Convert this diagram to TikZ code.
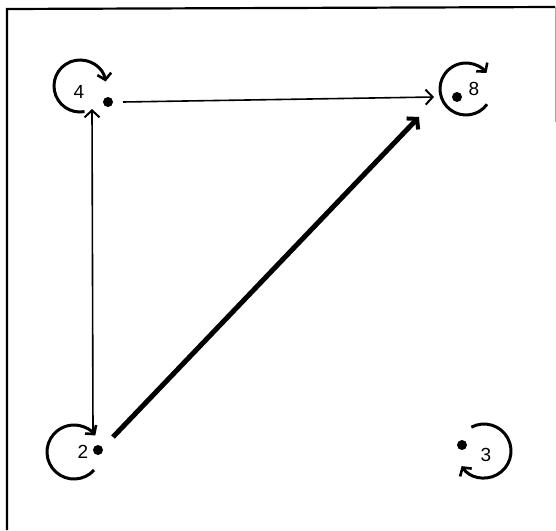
\documentclass[tikz,border=0pt]{standalone}
\usepackage{fontspec}
\setmainfont{Liberation Sans}
\usetikzlibrary{arrows.meta}
\begin{document}
\begin{tikzpicture}[x=1pt,y=1pt,
  dotnode/.style={circle,fill=black,inner sep=0pt,minimum size=10pt},
  lbl/.style={inner sep=0pt,font=\fontsize{19}{19}\selectfont},
  loopline/.style={line width=3pt,-{Straight Barb[length=6pt,width=14pt,line width=2.6pt]}},
  thinarrow/.style={line width=1.6pt,-{Straight Barb[length=7pt,width=15pt,line width=2pt]}},
  thickarrow/.style={line width=5pt,-{Straight Barb[length=7pt,width=16pt,line width=4pt]}},
  frameline/.style={line width=2.2pt}]
\useasboundingbox (0,0) rectangle (556,-530);
% frame
\draw[frameline] (7,-530) -- (7,-9) -- (555,-7);
\draw[line width=1pt,gray!70] (555,-7) -- (555,-122);
% dots
\node[dotnode] (d4) at (108,-102) {};
\node[dotnode] (d8) at (457,-97) {};
\node[dotnode] (d2) at (98,-450) {};
\node[dotnode] (d3) at (462,-445) {};
% labels
\node[lbl] (l4) at (79,-92) {4};
\node[lbl] (l8) at (474,-89) {8};
\node[lbl] (l2) at (83,-452) {2};
\node[lbl] (l3) at (486,-455) {3};
% self loops
\draw[loopline] (80,-86) ++(-80:26) arc[start angle=-80,end angle=-350,radius=26];
\draw[loopline] (466,-89) ++(-36:26) arc[start angle=-36,end angle=-322,radius=26];
\draw[loopline] (74,-452) ++(-42:27) arc[start angle=-42,end angle=-322,radius=27];
\draw[loopline] (484,-451) ++(118:27) arc[start angle=118,end angle=-146,radius=27];
% connectors
\draw[thinarrow] ([xshift=15pt]d4.center) -- ([xshift=-23pt]d8.center);
\draw[thinarrow] ([xshift=-5pt,yshift=18pt]d2.center) -- ([xshift=-16pt,yshift=-7pt]d4.center);
\draw[thickarrow] ([xshift=15pt,yshift=13pt]d2.center) -- ([xshift=-38pt,yshift=-20pt]d8.center);
\end{tikzpicture}
\end{document}
